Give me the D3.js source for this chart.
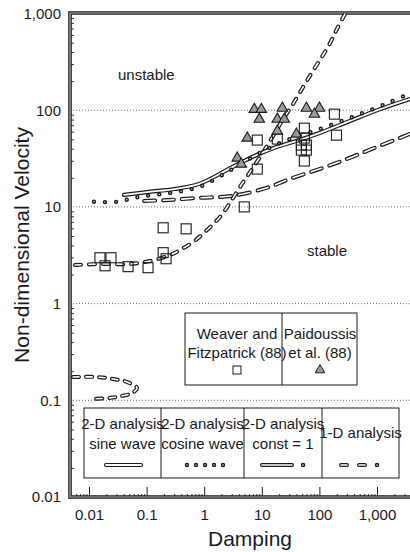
<!DOCTYPE html>
<html>
<head>
<meta charset="utf-8">
<script src="https://cdn.jsdelivr.net/npm/d3@7"></script>
<style>
  body { margin: 0; background: #fff; }
  text { font-family: "Liberation Sans", Arial, sans-serif; fill: #1a1a1a; }
</style>
</head>
<body>
<script>
// tick values / labels
var xTicks = [0.01, 0.1, 1, 10, 100, 1000];
var xTickLabels = ["0.01", "0.1", "1", "10", "100", "1,000"];
var yTicks = [0.01, 0.1, 1, 10, 100, 1000];
var yTickLabels = ["0.01", "0.1", "1", "10", "100", "1,000"];

// 2-D analysis, sine wave (solid)
var sineDamping = [0.0406, 0.110, 0.301, 0.818, 3.07, 7.41, 17.9, 44.9, 100, 332, 1105, 3670];
var sineVelocity = [13.3, 14.3, 15.3, 17.3, 25.8, 33.6, 41.6, 49.1, 58.0, 77.0, 102, 130];

// 2-D analysis, cosine wave (dots)
var cosDamping = [0.0122, 0.0307, 0.074, 0.246, 0.818, 3.07, 9.05, 24.6, 100, 406, 1523, 3390];
var cosVelocity = [11.3, 11.3, 12.7, 13.9, 16.1, 24.6, 36.0, 47.9, 63.7, 86.7, 118, 146];

// 2-D analysis, const = 1 (long dashes)
var constDamping = [0.0905, 0.246, 0.818, 3.07, 12.0, 30.1, 100, 295, 802, 2461, 3670];
var constVelocity = [11.5, 11.8, 12.4, 13.0, 15.7, 19.4, 24.6, 31.2, 39.6, 51.5, 56.6];

// 1-D analysis (short dashes), main branch and low fold
var oneDDamping = [0.00571, 0.0175, 0.0515, 0.115, 0.255, 0.380, 0.639, 1.12, 1.88, 2.80, 4.18, 6.24, 9.31, 13.9, 22.4, 34.8, 49.9, 71.5, 102, 147, 202, 278];
var oneDVelocity = [2.51, 2.57, 2.57, 2.76, 3.18, 3.58, 4.33, 5.77, 7.87, 11.0, 16.1, 22.9, 32.8, 48.0, 77.3, 116, 166, 237, 331, 472, 692, 988];
var foldDamping = [0.00527, 0.0138, 0.0261, 0.0457, 0.0681, 0.0558, 0.0374, 0.0232, 0.0104];
var foldVelocity = [0.174, 0.174, 0.166, 0.155, 0.134, 0.119, 0.111, 0.106, 0.103];

// Weaver and Fitzpatrick (88) - squares
var weaverDamping = [0.0155, 0.0241, 0.0190, 0.0477, 0.106, 0.194, 0.486, 0.194, 0.218, 4.96, 8.35, 18.6, 8.35, 54.8, 54.8, 48.6, 59.4, 48.6, 59.4, 54.8, 182, 198];
var weaverVelocity = [2.98, 2.98, 2.46, 2.41, 2.35, 6.08, 5.93, 3.36, 2.91, 10, 49.1, 50.3, 24.6, 65.2, 51.5, 43.6, 43.6, 38.7, 38.7, 29.8, 91.0, 55.2];

// Paidoussis et al. (88) - triangles
var paidDamping = [7.41, 9.80, 9.05, 5.60, 3.75, 4.40, 22.7, 18.6, 24.6, 18.6, 39.8, 59.4, 100, 81.9];
var paidVelocity = [102, 102, 80.7, 51.5, 32.0, 27.7, 105, 80.7, 80.7, 60.8, 56.6, 105, 105, 91.0];

var width = 410, height = 552;
var pLeft = 70, pRight = 410, pTop = 13, pBottom = 497;

var svg = d3.select("body").append("svg")
  .attr("width", width)
  .attr("height", height);

var x = d3.scaleLog().domain([0.01, 1000]).range([89, 377]);
var y = d3.scaleLog().domain([0.01, 1000]).range([497, 13.5]);

svg.append("clipPath").attr("id", "plot")
  .append("rect").attr("x", pLeft).attr("y", pTop).attr("width", pRight - pLeft).attr("height", pBottom - pTop);

// dotted grid at decades
svg.selectAll(".grid")
  .data(yTicks.slice(1, 5))
  .enter().append("line")
  .attr("x1", pLeft).attr("x2", pRight)
  .attr("y1", function(d) { return y(d) }).attr("y2", function(d) { return y(d) })
  .attr("stroke", "#444").attr("stroke-width", 0.8).attr("stroke-dasharray", "1,2");

// minor ticks
var minors = [];
for (var e = -3; e <= 3; e++) {
  for (var m = 2; m <= 9; m++) minors.push(m * Math.pow(10, e));
}
var xMinor = minors.filter(function(d) { return x(d) > pLeft + 2 && x(d) < pRight });
var yMinor = minors.filter(function(d) { return d > 0.01 && d < 1000 });

var xAxis = svg.append("g").attr("transform", "translate(0," + pBottom + ")")
  .call(d3.axisBottom(x).tickValues(xTicks).tickFormat(function(d, i) { return xTickLabels[i] })
    .tickSizeInner(-10).tickSizeOuter(0).tickPadding(12));
xAxis.select(".domain").remove();
xAxis.selectAll("text").style("font-size", "15px").attr("fill", "#1a1a1a");
xAxis.selectAll("line").attr("stroke", "#1a1a1a");

var xAxisMinor = svg.append("g").attr("transform", "translate(0," + pBottom + ")")
  .call(d3.axisBottom(x).tickValues(xMinor).tickFormat("").tickSizeInner(-3).tickSizeOuter(0));
xAxisMinor.select(".domain").remove();
xAxisMinor.selectAll("line").attr("stroke", "#333");

var yAxis = svg.append("g").attr("transform", "translate(" + pLeft + ",0)")
  .call(d3.axisLeft(y).tickValues(yTicks).tickFormat(function(d, i) { return yTickLabels[i] })
    .tickSizeInner(0).tickSizeOuter(0).tickPadding(9));
yAxis.select(".domain").remove();
yAxis.selectAll("text").style("font-size", "15px").attr("fill", "#1a1a1a");

var yAxisMinor = svg.append("g").attr("transform", "translate(" + pLeft + ",0)")
  .call(d3.axisLeft(y).tickValues(yMinor).tickFormat("").tickSizeInner(-4).tickSizeOuter(0));
yAxisMinor.select(".domain").remove();
yAxisMinor.selectAll("line").attr("stroke", "#333");

// frame: double line on left, top and bottom
var frame = "M" + pRight + "," + pTop + "H" + pLeft + "V" + pBottom + "H" + pRight;
svg.append("path").attr("d", frame).attr("fill", "none").attr("stroke", "#1a1a1a").attr("stroke-width", 3.6);
svg.append("path").attr("d", frame).attr("fill", "none").attr("stroke", "#bbb").attr("stroke-width", 1.2);

// curves
var plot = svg.append("g").attr("clip-path", "url(#plot)");
var line = d3.line()
  .x(function(d) { return x(d[0]) })
  .y(function(d) { return y(d[1]) })
  .curve(d3.curveCatmullRom);

function pairs(a, b) { return a.map(function(d, i) { return [d, b[i]] }) }

function tube(g, pts, dash, outer, inner) {
  g.append("path").attr("d", line(pts)).attr("fill", "none")
    .attr("stroke", "#1a1a1a").attr("stroke-width", outer)
    .attr("stroke-linecap", "round").attr("stroke-dasharray", dash);
  g.append("path").attr("d", line(pts)).attr("fill", "none")
    .attr("stroke", "#fff").attr("stroke-width", inner)
    .attr("stroke-linecap", "round").attr("stroke-dasharray", dash);
}

tube(plot, pairs(oneDDamping, oneDVelocity), "6,8", 4, 1.6);
tube(plot, pairs(foldDamping, foldVelocity), "6,7", 4, 1.6);
tube(plot, pairs(constDamping, constVelocity), "11,8", 4, 1.6);
tube(plot, pairs(sineDamping, sineVelocity), null, 4.2, 1.8);
tube(plot, pairs(cosDamping, cosVelocity), "0,11", 4.4, 1.4);

// squares
plot.selectAll(".sq")
  .data(pairs(weaverDamping, weaverVelocity))
  .enter().append("rect")
  .attr("x", function(d) { return x(d[0]) - 5 })
  .attr("y", function(d) { return y(d[1]) - 5 })
  .attr("width", 10).attr("height", 10)
  .attr("fill", "none").attr("stroke", "#1a1a1a").attr("stroke-width", 1.1);

// triangles
var tri = d3.symbol().type(d3.symbolTriangle).size(48);
plot.selectAll(".tri")
  .data(pairs(paidDamping, paidVelocity))
  .enter().append("path")
  .attr("d", tri)
  .attr("transform", function(d) { return "translate(" + x(d[0]) + "," + y(d[1]) + ")" })
  .attr("fill", "#9a9a9a").attr("stroke", "#1a1a1a").attr("stroke-width", 1.1);

// region labels
svg.append("text").attr("x", 118).attr("y", 80).style("font-size", "15px").text("unstable");
svg.append("text").attr("x", 307).attr("y", 256).style("font-size", "15px").text("stable");

// legend 1
var lg1 = svg.append("g");
lg1.append("rect").attr("x", 185).attr("y", 313).attr("width", 172).attr("height", 72)
  .attr("fill", "#fff").attr("stroke", "#1a1a1a").attr("stroke-width", 1);
lg1.append("line").attr("x1", 282).attr("x2", 282).attr("y1", 313).attr("y2", 385).attr("stroke", "#1a1a1a");
[["Weaver and", "Fitzpatrick (88)", 237], ["Paidoussis", "et al. (88)", 320]].forEach(function(t) {
  lg1.append("text").attr("x", t[2]).attr("y", 339).attr("text-anchor", "middle").style("font-size", "15px").text(t[0]);
  lg1.append("text").attr("x", t[2]).attr("y", 358).attr("text-anchor", "middle").style("font-size", "15px").text(t[1]);
});
lg1.append("rect").attr("x", 233).attr("y", 366).attr("width", 8).attr("height", 8)
  .attr("fill", "none").attr("stroke", "#1a1a1a");
lg1.append("path").attr("d", d3.symbol().type(d3.symbolTriangle).size(40))
  .attr("transform", "translate(320,370)").attr("fill", "#9a9a9a").attr("stroke", "#1a1a1a");

// legend 2
var lg2 = svg.append("g");
var cells = [84, 161, 244, 322, 399];
lg2.append("rect").attr("x", 84).attr("y", 408).attr("width", 315).attr("height", 70)
  .attr("fill", "#fff").attr("stroke", "#1a1a1a").attr("stroke-width", 1);
cells.slice(1, 4).forEach(function(c) {
  lg2.append("line").attr("x1", c).attr("x2", c).attr("y1", 408).attr("y2", 478).attr("stroke", "#1a1a1a");
});
var names = [["2-D analysis", "sine wave"], ["2-D analysis", "cosine wave"], ["2-D analysis", "const = 1"], ["1-D analysis"]];
names.forEach(function(n, i) {
  var cx = (cells[i] + cells[i + 1]) / 2;
  if (n.length === 1) {
    lg2.append("text").attr("x", cx).attr("y", 438).attr("text-anchor", "middle").style("font-size", "15px").text(n[0]);
  } else {
    lg2.append("text").attr("x", cx).attr("y", 429).attr("text-anchor", "middle").style("font-size", "15px").text(n[0]);
    lg2.append("text").attr("x", cx).attr("y", 449).attr("text-anchor", "middle").style("font-size", "15px").text(n[1]);
  }
});
var ly = 465;
function legLine(x1, x2, dash, outer, inner) {
  var d = "M" + x1 + "," + ly + "H" + x2;
  lg2.append("path").attr("d", d).attr("stroke", "#1a1a1a").attr("stroke-width", outer)
    .attr("stroke-linecap", "round").attr("stroke-dasharray", dash);
  lg2.append("path").attr("d", d).attr("stroke", "#fff").attr("stroke-width", inner)
    .attr("stroke-linecap", "round").attr("stroke-dasharray", dash);
}
legLine(106, 141, null, 4.2, 1.8);
legLine(187, 224, "0,9", 4.4, 1.4);
legLine(262, 292, null, 4, 1.6);
legLine(303, 303.1, null, 4.4, 1.4);
legLine(341, 347, null, 4, 1.6);
legLine(359, 365, null, 4, 1.6);
legLine(377, 377.1, null, 4.4, 1.4);

// axis titles
svg.append("text").attr("x", 250).attr("y", 546).attr("text-anchor", "middle")
  .style("font-size", "21px").text("Damping");
svg.append("text").attr("transform", "translate(29,245) rotate(-90)").attr("text-anchor", "middle")
  .style("font-size", "21px").text("Non-dimensional Velocity");
</script>
</body>
</html>
